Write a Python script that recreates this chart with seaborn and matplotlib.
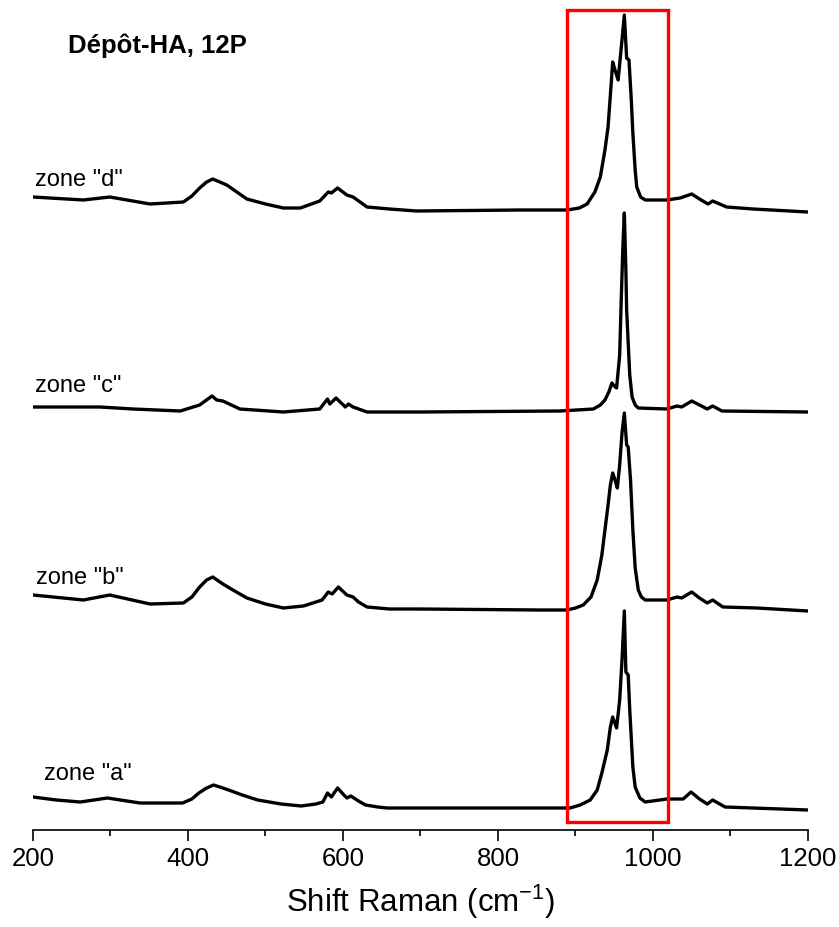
import pandas as pd
import seaborn as sns
import matplotlib.pyplot as plt
from matplotlib.patches import Rectangle

# values (Raman shift in cm-1, intensity in arbitrary units)
zone_a_x = [200, 230, 261, 296, 338, 393, 405, 414, 424, 433, 445, 456, 470, 490, 520, 546, 565, 574, 580,
            585, 593, 600, 605, 610, 620, 629, 645, 657, 750, 850, 893, 906, 919, 928, 934, 941, 945,
            948, 953, 957, 960, 963, 965, 968, 970, 974, 977, 983, 990, 1018, 1039, 1049, 1060, 1070,
            1077, 1093, 1200]
zone_a_y = [33, 30, 28, 32, 27, 27, 31, 37, 42, 45, 42, 39, 35, 30, 26, 24, 26, 28, 37,
            33, 42, 36, 32, 34, 29, 25, 23, 22, 22, 22, 22, 25, 30, 40, 57, 80, 103,
            113, 102, 130, 170, 219, 158, 155, 120, 63, 43, 32, 28, 31, 31, 38, 31, 26,
            30, 23, 20]

zone_b_x = [200, 265, 299, 351, 394, 405, 415, 424, 432, 445, 458, 476, 500, 523, 549, 573, 581, 586,
            594, 605, 613, 620, 631, 660, 699, 854, 889, 900, 910, 920, 928, 934, 938, 942, 945, 948,
            951, 954, 957, 960, 963, 966, 968, 971, 974, 977, 981, 985, 990, 1018, 1031, 1037, 1050,
            1060, 1070, 1077, 1090, 1134, 1200]
zone_b_y = [35, 30, 35, 26, 27, 33, 43, 50, 53, 46, 40, 32, 26, 22, 24, 30, 38, 36,
            43, 35, 33, 28, 23, 21, 21, 20, 20, 22, 25, 33, 50, 75, 100, 125, 145, 157,
            150, 142, 165, 197, 217, 185, 183, 150, 100, 62, 40, 33, 30, 30, 33, 32, 38,
            32, 27, 30, 23, 22, 19]

zone_c_x = [200, 286, 329, 390, 415, 431, 437, 445, 456, 467, 523, 570, 580, 583, 591, 603, 607, 613,
            631, 699, 880, 923, 932, 938, 943, 947, 950, 953, 957, 959, 961, 963, 965, 966, 968,
            970, 973, 977, 981, 1018, 1031, 1037, 1050, 1060, 1070, 1077, 1089, 1200]
zone_c_y = [23, 23, 21, 19, 25, 34, 30, 29, 25, 21, 18, 21, 31, 26, 32, 23, 26, 23,
            18, 18, 19, 21, 25, 30, 38, 47, 44, 42, 75, 130, 180, 217, 160, 120, 87,
            55, 33, 25, 22, 21, 24, 23, 29, 25, 21, 24, 19, 18]

zone_d_x = [200, 265, 299, 351, 394, 405, 415, 424, 432, 450, 476, 500, 523, 545, 570, 581, 585, 593,
            605, 613, 631, 660, 695, 828, 889, 905, 915, 925, 932, 938, 942, 945, 948, 951, 955, 960,
            963, 966, 969, 972, 974, 977, 979, 984, 990, 1018, 1035, 1050, 1060, 1071, 1077, 1095,
            1129, 1200]
zone_d_y = [33, 30, 33, 26, 28, 34, 42, 48, 51, 45, 31, 26, 22, 22, 29, 38, 37, 42,
            35, 33, 23, 21, 19, 20, 20, 22, 26, 38, 53, 80, 103, 135, 168, 160, 150, 190,
            215, 172, 170, 130, 97, 60, 43, 33, 30, 30, 32, 36, 31, 26, 29, 23,
            21, 18]

zones = ['zone "a"', 'zone "b"', 'zone "c"', 'zone "d"']
offsets = [0, 200, 400, 600]

frames = []
for name, off, xs, ys in zip(zones, offsets,
                             [zone_a_x, zone_b_x, zone_c_x, zone_d_x],
                             [zone_a_y, zone_b_y, zone_c_y, zone_d_y]):
    frames.append(pd.DataFrame({'Shift': xs, 'Intensity': [v + off for v in ys], 'Zone': name}))
df = pd.concat(frames, ignore_index=True)

sns.set_style('ticks')
plt.rcParams['font.family'] = ['Liberation Sans', 'DejaVu Sans']
plt.rcParams['mathtext.fontset'] = 'custom'
plt.rcParams['mathtext.rm'] = 'Liberation Sans'
plt.rcParams['mathtext.it'] = 'Liberation Sans'
plt.rcParams['text.color'] = 'black'
plt.rcParams['axes.labelcolor'] = 'black'
plt.rcParams['xtick.color'] = 'black'

fig = plt.figure(figsize=(8.39, 9.27), dpi=100)
ax = fig.add_axes([33 / 839, 97 / 927, 775 / 839, 830 / 927])

sns.lineplot(data=df, x='Shift', y='Intensity', hue='Zone', palette=['black'] * 4,
             estimator=None, sort=False, legend=False, linewidth=2.4, ax=ax)

ax.add_patch(Rectangle((889, 8), 130, 812, fill=False, edgecolor='#ff0000', linewidth=2.4, zorder=5))

ax.text(203, 644, zones[3], fontsize=17, va='baseline')
ax.text(203, 438, zones[2], fontsize=17, va='baseline')
ax.text(204, 246, zones[1], fontsize=17, va='baseline')
ax.text(214, 50, zones[0], fontsize=17, va='baseline')
ax.text(245, 777, 'Dépôt-HA, 12P', fontsize=18.5, fontweight='bold', va='baseline')

ax.set_xlim(200, 1200)
ax.set_ylim(0, 830)
ax.set_xticks([200, 400, 600, 800, 1000, 1200])
ax.set_xticks([300, 500, 700, 900, 1100], minor=True)
ax.set_yticks([])
ax.tick_params(axis='x', which='major', direction='out', length=8, width=1.2, labelsize=18.5, pad=4)
ax.tick_params(axis='x', which='minor', direction='out', length=4.5, width=1.2)
for side in ['top', 'right', 'left']:
    ax.spines[side].set_visible(False)
ax.spines['bottom'].set_linewidth(1.2)
ax.spines['bottom'].set_color('black')
ax.set_xlabel('Shift Raman (cm$^{-1}$)', fontsize=22.5, labelpad=9)
ax.set_ylabel('')

fig.savefig('out.png', dpi=100)
